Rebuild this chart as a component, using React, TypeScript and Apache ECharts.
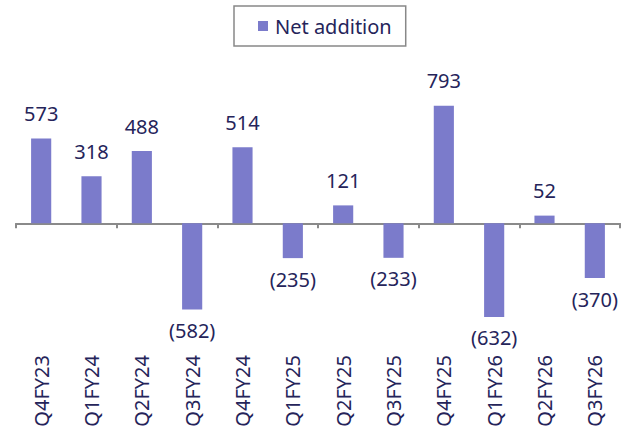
import React, { useEffect, useRef } from "react";
import * as echarts from "echarts";

const categories = ["Q4FY23", "Q1FY24", "Q2FY24", "Q3FY24", "Q4FY24", "Q1FY25", "Q2FY25", "Q3FY25", "Q4FY25", "Q1FY26", "Q2FY26", "Q3FY26"];
const netAddition = [573, 318, 488, -582, 514, -235, 121, -233, 793, -632, 52, -370];
const seriesName = "Net addition";

const FONT = "Noto Sans";
const TEXT = "#25245A";
const BAR = "#7B7BCB";

export default function App() {
  const ref = useRef<HTMLDivElement>(null);
  useEffect(() => {
    document.body.style.margin = "0";
    const chart = echarts.init(ref.current!, null, { renderer: "svg" });
    chart.setOption({
      animation: false,
      textStyle: { fontFamily: FONT },
      legend: {
        data: [{ name: seriesName, icon: "rect" }],
        top: 6,
        left: 234,
        borderColor: "#888",
        borderWidth: 1.5,
        padding: [10, 14, 10, 24],
        itemWidth: 10,
        itemHeight: 10,
        itemGap: 6,
        textStyle: { fontSize: 20, color: TEXT, fontFamily: FONT, padding: [0, 0, 0, 2] },
      },
      grid: { left: 16, right: 24, top: 90, bottom: 107, containLabel: false },
      xAxis: [
        {
          type: "category",
          data: categories,
          axisLine: { onZero: true, lineStyle: { color: "#8a8a8a", width: 2 } },
          axisTick: { show: true, length: 5, lineStyle: { color: "#8a8a8a", width: 2 } },
          axisLabel: { show: false },
        },
        {
          type: "category",
          data: categories,
          position: "bottom",
          axisLine: { show: false },
          axisTick: { show: false },
          axisLabel: {
            rotate: 90,
            margin: 28,
            fontSize: 20,
            color: TEXT,
            fontFamily: FONT,
          },
        },
      ],
      yAxis: {
        type: "value",
        min: -700,
        max: 900,
        show: false,
        splitLine: { show: false },
      },
      series: [
        {
          name: seriesName,
          type: "bar",
          data: netAddition.map((v) => ({
            value: v,
            label: { position: v >= 0 ? "top" : "bottom", distance: v >= 0 ? 15 : 11 },
          })),
          barWidth: "40%",
          itemStyle: { color: BAR },
          label: {
            show: true,
            fontSize: 20,
            color: TEXT,
            fontFamily: FONT,
            formatter: (p: any) => (p.value < 0 ? `(${Math.abs(p.value)})` : `${p.value}`),
          },
        },
      ],
    });
    return () => chart.dispose();
  }, []);
  return <div ref={ref} style={{ width: 644, height: 434 }} />;
}
